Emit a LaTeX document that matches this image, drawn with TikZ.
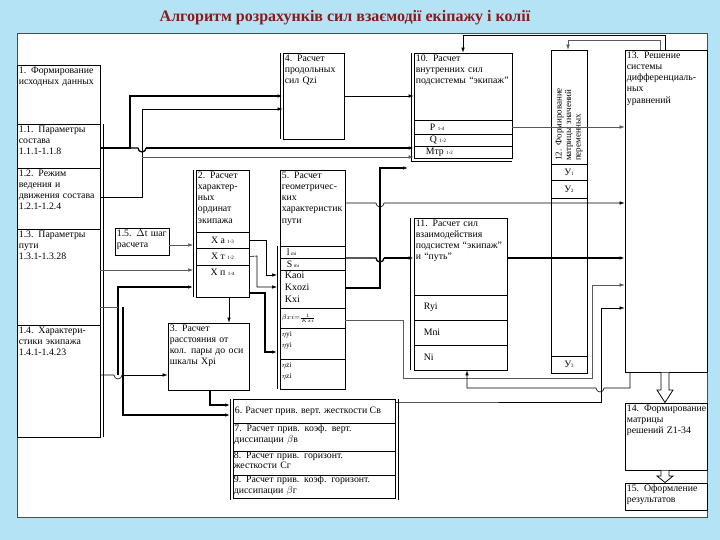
\documentclass[tikz,border=0pt]{standalone}
\usepackage{fontspec}
\setmainfont{Liberation Serif}
\usetikzlibrary{arrows.meta}
\definecolor{bg}{HTML}{B3E3F5}
\definecolor{ttl}{HTML}{8B1A1A}
\tikzset{
 box/.style={draw,fill=white,line width=0.7pt,inner sep=0pt,rectangle},
 txt/.style={anchor=north west,align=left,inner sep=2pt,font=\fontsize{9.8}{11.2}\selectfont},
 ctr/.style={inner sep=0pt,font=\fontsize{9.8}{11}\selectfont},
 ln/.style={line width=0.6pt},
 thk/.style={line width=1.3pt},
 gr/.style={line width=0.5pt,gray!70!black},
 ar/.style={-{Latex[length=5pt,width=3.5pt]}},
 hol/.style={draw,fill=white,line width=0.8pt},
}
\newcommand\bx[5]{\node[box,minimum width=#4pt,minimum height=#5pt] (#1) at ({#2+#4/2},{#3+#5/2}) {};}
\newcommand\dl[3]{\draw[line width=0.7pt] (#1,#2) -- (#1,#3);}
\begin{document}
\begin{tikzpicture}[x=1pt,y=-1pt]
\fill[bg] (0,0) rectangle (720,540);
\useasboundingbox (0,0) rectangle (720,540);
\node[font=\bfseries\fontsize{16}{18}\selectfont,text=ttl] (title) at (345,18) {Алгоритм розрахунків сил взаємодії екіпажу і колії};
\draw[fill=white,draw=gray!60!black,line width=0.8pt] (17,33) rectangle (707,517);
% block 1
\bx{b1}{17}{65}{83}{59}
\node[txt,text width=80pt] at (b1.north west) {1. Формирование исходных данных};
\bx{b11}{17}{124}{83}{44}
\node[txt,text width=80pt] at (b11.north west) {1.1. Параметры состава\\1.1.1-1.1.8};
\bx{b12}{17}{168}{83}{61}
\node[txt,text width=80pt] at (b12.north west) {1.2. Режим ведения и движения состава 1.2.1-1.2.4};
\bx{b13}{17}{229}{83}{96}
\node[txt,text width=80pt] at (b13.north west) {1.3. Параметры пути\\1.3.1-1.3.28};
\bx{b14}{17}{325}{83}{112}
\node[txt,text width=80pt] at (b14.north west) {1.4. Характери-стики экипажа 1.4.1-1.4.23};
\dl{103}{124}{437}
% 1.5
\bx{b15}{115}{228}{54}{27}
\node[txt,text width=52pt] at (b15.north west) {1.5. $\Delta$t шаг расчета};
% block 2
\bx{b2}{196}{170}{53}{62}
\node[txt,text width=52pt] at (b2.north west) {2. Расчет характер-ных ординат экипажа};
\bx{b2a}{196}{232}{53}{16}\node[ctr] at (b2a) {X а {\tiny 1-3}};
\bx{b2t}{196}{248}{53}{17}\node[ctr] at (b2t) {X т {\tiny 1-2}};
\bx{b2p}{196}{265}{53}{32}\node[ctr,anchor=north] at ([yshift=-4pt]b2p.north) {X п {\tiny 1-4}};
\dl{193}{170}{297}
% block 3
\bx{b3}{168}{323}{81}{67}
\node[txt,text width=80pt] at (b3.north west) {3. Расчет расстояния от кол. пары до оси шкалы Xpi};
% block 4
\bx{b4}{283}{53}{61}{86}
\node[txt,text width=60pt] at (b4.north west) {4. Расчет продольных сил Qzi};
\dl{280}{53}{139}
% block 5
\bx{b5}{280}{170}{65}{76}
\node[txt,text width=64pt] at (b5.north west) {5. Расчет геометричес-ких характеристик пути};
\bx{b5l}{280}{246}{65}{12}\node[ctr,anchor=west] at ([xshift=7pt]b5l.west) {l\,{\tiny mi}};
\bx{b5s}{280}{258}{65}{12}\node[ctr,anchor=west] at ([xshift=7pt]b5s.west) {S\,{\tiny mi}};
\bx{b5k}{280}{270}{65}{38}
\node[txt,text width=60pt,font=\fontsize{10}{11.8}\selectfont] at ([xshift=3pt]b5k.north west) {Kaoi\\Kxozi\\Kxi};
\bx{b5b}{280}{308}{65}{20}\node[ctr,anchor=west] at ([xshift=2pt]b5b.west) {$\scriptstyle\beta xi=\frac{1}{Kxi}$};
\bx{b5y}{280}{328}{65}{31}
\node[txt,font=\fontsize{7.5}{11}\selectfont] at ([yshift=-2pt]b5y.north west) {$\eta$yi\\$\eta$yi};
\bx{b5z}{280}{359}{65}{30}
\node[txt,font=\fontsize{7.5}{11}\selectfont] at ([yshift=-2pt]b5z.north west) {$\eta$zi\\$\eta$zi};
\dl{277}{246}{389}
% blocks 6-9
\bx{b6}{233}{399}{162}{24}\node[ctr,anchor=west] at ([xshift=2pt]b6.west) {6. Расчет прив. верт. жесткости Св};
\bx{b7}{233}{423}{162}{28}\node[txt,text width=158pt,inner sep=1.5pt] at (b7.north west) {7. Расчет прив. коэф. верт.\\диссипации $\beta$в};
\bx{b8}{233}{451}{162}{24}\node[txt,text width=158pt,inner sep=1pt,font=\fontsize{9.8}{10.5}\selectfont] at (b8.north west) {8. Расчет прив. горизонт.\\жесткости Сг};
\bx{b9}{233}{475}{162}{23}\node[txt,text width=158pt,inner sep=1pt,font=\fontsize{9.8}{10.5}\selectfont] at (b9.north west) {9. Расчет прив. коэф. горизонт.\\диссипации $\beta$г};
\dl{230}{399}{500}\dl{398}{399}{500}
% block 10
\bx{b10}{414}{53}{98}{67}
\node[txt,text width=94pt] at (b10.north west) {10. Расчет внутренних сил подсистемы ``экипаж''};
\bx{b10p}{414}{120}{98}{14}\node[ctr,anchor=west] at ([xshift=16pt]b10p.west) {P {\tiny 1-4}};
\bx{b10q}{414}{134}{98}{12}\node[ctr,anchor=west] at ([xshift=16pt]b10q.west) {Q {\tiny 1-2}};
\bx{b10m}{414}{146}{98}{12}\node[ctr,anchor=west] at ([xshift=12pt]b10m.west) {Mтр {\tiny 1-2}};
\dl{411}{53}{161}
\draw[line width=0.5pt] (411,161) -- (512,161);
% block 11
\bx{b11b}{414}{218}{93}{77}
\node[txt,text width=90pt] at (b11b.north west) {11. Расчет сил взаимодействия подсистем ``экипаж'' и ``путь''};
\bx{b11r}{414}{295}{93}{25}\node[ctr,anchor=west] at ([xshift=10pt]b11r.west) {Ryi};
\bx{b11m}{414}{320}{93}{25}\node[ctr,anchor=west] at ([xshift=10pt]b11m.west) {Mni};
\bx{b11n}{414}{345}{93}{25}\node[ctr,anchor=west] at ([xshift=10pt]b11n.west) {Ni};
\dl{410}{218}{370}
% block 12
\bx{c12}{551}{50}{36}{114}
\node[ctr,rotate=90,align=left,text width=108pt,font=\fontsize{9}{9.5}\selectfont] at (c12) {12. Формирование матрицы значений переменных};
\bx{c12a}{551}{164}{36}{16}\node[ctr] at (c12a) {У{\tiny 1}};
\bx{c12b}{551}{180}{36}{18}\node[ctr] at (c12b) {У{\tiny 2}};
\bx{c12m}{551}{198}{36}{158}
\bx{c12c}{551}{356}{36}{17}\node[ctr] at (c12c) {У{\tiny 3}};
% 13-15
\bx{b13b}{625}{50}{82}{322}
\node[txt,text width=80pt] at (b13b.north west) {13. Решение системы дифференциаль-ных\\уравнений};
\bx{b14b}{625}{403}{82}{67}
\node[txt,text width=84pt] at (b14b.north west) {14. Формирование матрицы\\решений Z1-34};
\bx{b15b}{625}{483}{82}{27}
\node[txt,text width=80pt] at (b15b.north west) {15. Оформление результатов};
\path[hol] (661,372.5) -- (661,390) -- (657,390) -- (665,402.5) -- (673,390) -- (669,390) -- (669,372.5);
\path[hol] (661,470.5) -- (661,476) -- (657,476) -- (665,482.5) -- (673,476) -- (669,476) -- (669,470.5);
% connectors
\draw[thk,ar] (b11.east |- 0,148) -- (130,148) -- (130,96) -- (b4.west |- 0,96);
\draw[thk] (130,148) -- (138,148) arc (180:0:4) -- (146,148);
\draw[thk,ar] (146,148) -- (b10.west |- 0,148);
\draw[ln,ar] (b12.east |- 0,197) -- (142,197) -- (142,109) -- (b4.west |- 0,109);
\draw[gr,ar] (142,157) -- (b10.west |- 0,157);
\draw[ln,ar] (b4.east |- 0,96) -- (b10.west |- 0,96);
\draw[ln,ar] (b13b.north -| 665,0) -- (665,35) -- (463,35) -- (b10.north -| 463,0);
\draw[gr,ar] (b13b.north -| 660,0) -- (660,40) -- (568,40) -- (c12.north -| 568,0);
\draw[gr,ar] (b10p.east) -- (b13b.west |- 0,127);
\draw[ln,ar] (b5.east |- 0,203) -- (376,203) arc (180:0:4) -- (b13b.west |- 0,203);
\draw[thk] (b5s.east |- 0,258) -- (376,258) arc (180:0:4) -- (384,258);
\draw[thk,ar] (384,258) -- (b11b.west |- 0,258);
\draw[thk,ar] (b11b.east |- 0,258) -- (b13b.west |- 0,258);
\draw[thk,ar] (b5k.east |- 0,288) -- (380,288) -- (380,168) -- (408,168);
\draw[gr,ar] (b5b.east |- 0,320) -- (403,320) -- (403,378) -- (592,378) -- (592,285) -- (b13b.west |- 0,285);
\draw[ln,ar] (630,372) -- (630,388) -- (604,388) arc (0:180:4) -- (467,388) -- (b11n.south -| 467,0);
\draw[ln,ar] (b6.east |- 0,402) -- (398,402) -- (601,402) -- (601,308) -- (b13b.west |- 0,308);
\draw[gr,ar] (b13.east |- 0,270) -- (193,270);
\draw[gr,ar] (b15.east |- 0,245) -- (193,245);
\draw[ln] (b14.east |- 0,375) -- (114,375) arc (180:0:4) -- (122,375);
\draw[ln,ar] (122,375) -- (b3.west |- 0,375);
\draw[thk,ar] (118,375) -- (118,287) -- (193,287);
\draw[gr] (b13.east |- 0,307) -- (118,307);
\draw[thk,ar] (123,307) -- (123,415) -- (230,415);
\draw[ln,ar] (b2a.east) -- (266,240) -- (266,275) -- (277,275);
\draw[ln,ar] (b2t.east) -- (257,256) -- (257,287) -- (277,287);
\draw[thk,ar] (249,293) -- (265,293) -- (265,352) -- (277,352);
\draw[ln,ar] (b2p.south -| 229,0) -- (b3.north -| 229,0);
\draw[thk,ar] (b3.south -| 210,0) -- (210,405) -- (230,405);
\end{tikzpicture}
\end{document}
